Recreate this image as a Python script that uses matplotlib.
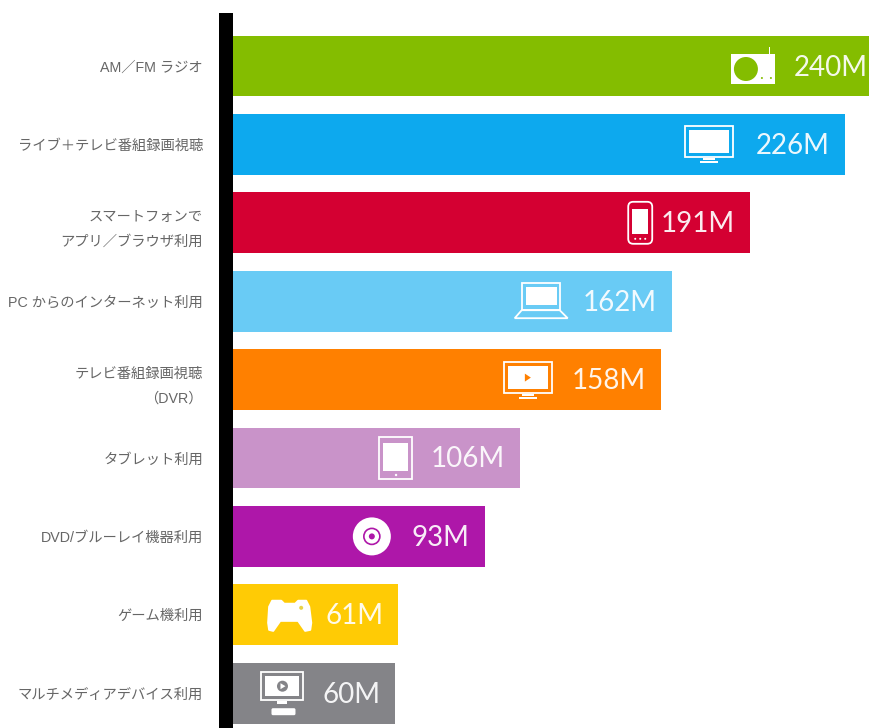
import matplotlib
matplotlib.use('Agg')
import matplotlib.pyplot as plt
from matplotlib.patches import Rectangle, Circle, FancyBboxPatch, Polygon

labels = ['AM／FM ラジオ', 'ライブ＋テレビ番組録画視聴', 'スマートフォンで\nアプリ／ブラウザ利用',
          'PC からのインターネット利用', 'テレビ番組録画視聴\n（DVR）', 'タブレット利用',
          'DVD/ブルーレイ機器利用', 'ゲーム機利用', 'マルチメディアデバイス利用']
values = [240, 226, 191, 162, 158, 106, 93, 61, 60]
colors = ['#84BD00', '#0DA9EE', '#D40032', '#69CBF5', '#FF8000',
          '#C993C9', '#AE17A9', '#FFCB05', '#848488']
icons = ['radio', 'tv', 'phone', 'laptop', 'tvplay', 'tablet', 'disc', 'pad', 'media']
# distance from the bar end to the icon centre, px
icon_back = [130, 136, 110, 131, 133, 124, 113, 109, 113]

W = 'white'
PX = 72 / 100  # points per pixel at dpi 100
plt.rcParams['font.family'] = ['Liberation Sans', 'Noto Sans CJK JP']

fig = plt.figure(figsize=(8.7, 7.28), dpi=100)
ax = fig.add_axes([233 / 870, 0, 637 / 870, 1])
ax.set_xlim(0, 637 / 2.708)
ax.set_ylim(8.444, -0.842)

pos = list(range(len(values)))
ax.barh(pos, values, height=0.775, color=colors)

for i, v in enumerate(values):
    ax.annotate(f'{v}M', (v, i), xytext=(-15 * PX, -1.5 * PX), textcoords='offset points',
                ha='right', va='center', fontsize=20, color='#FFFFFF', alpha=0.92,
                family='Lato', annotation_clip=False)

for s in ['top', 'right', 'bottom']:
    ax.spines[s].set_visible(False)
ax.spines['left'].set_position(('outward', 7 * PX))
ax.spines['left'].set_linewidth(14 * PX)
ax.spines['left'].set_color('black')
ax.spines['left'].set_capstyle('butt')
ax.spines['left'].set_bounds(-0.676, 8.444)
ax.set_xticks([])
ax.set_yticks(pos)
ax.set_yticklabels(labels, fontsize=10.3, color='#666666', linespacing=1.95, ha='right')
ax.tick_params(axis='y', length=0, pad=23 * PX)

# overlay in pixel coordinates, only for the little white device icons
ov = fig.add_axes([0, 0, 1, 1])
ov.set_xlim(0, 870)
ov.set_ylim(728, 0)
ov.axis('off')


def rect(x0, y0, x1, y1, color=W, fill=True, lw=1.3, round=0):
    if round:
        p = FancyBboxPatch((x0, y0), x1 - x0, y1 - y0, boxstyle=f'round,pad=0,rounding_size={round}',
                           fc=color if fill else 'none', ec=color, lw=lw if not fill else 0)
    else:
        p = Rectangle((x0, y0), x1 - x0, y1 - y0, fc=color if fill else 'none',
                      ec=color if not fill else 'none', lw=lw)
    ov.add_patch(p)


def monitor(x, y, bg):
    rect(x - 24, y - 18, x + 24, y + 13, fill=False)
    rect(x - 20, y - 14, x + 20, y + 9)
    rect(x - 6, y + 14, x + 6, y + 16)
    rect(x - 9, y + 17, x + 9, y + 19)


def draw_icon(kind, x, y, bg):
    if kind == 'radio':
        rect(x - 22, y - 13, x + 22, y + 17)
        ov.add_patch(Circle((x - 7, y + 2), 12, fc=bg, ec='none'))
        rect(x + 16, y - 20, x + 17.5, y - 13)
        for dx in [9, 18]:
            ov.add_patch(Circle((x + dx, y + 11), 1, fc=bg, ec='none'))
    elif kind == 'tv':
        monitor(x, y, bg)
    elif kind == 'tvplay':
        monitor(x, y, bg)
        ov.add_patch(Polygon([(x - 3, y - 6), (x - 3, y + 2), (x + 3, y - 2)], fc=bg, ec='none'))
    elif kind == 'phone':
        rect(x - 12, y - 21, x + 12, y + 21, fill=False, round=5)
        rect(x - 8, y - 14, x + 8, y + 11)
        for dx in [-5, 0, 5]:
            ov.add_patch(Circle((x + dx, y + 16), 1, fc=W, ec='none'))
    elif kind == 'laptop':
        rect(x - 19, y - 18, x + 19, y + 9, fill=False)
        rect(x - 15, y - 14, x + 16, y + 4)
        ov.add_patch(Polygon([(x - 19, y + 9), (x + 19, y + 9), (x + 27, y + 17), (x - 26, y + 17)],
                             fc='none', ec=W, lw=1.3))
    elif kind == 'tablet':
        rect(x - 17, y - 21, x + 16, y + 21, fill=False)
        rect(x - 13, y - 15, x + 12, y + 13)
        ov.add_patch(Circle((x, y + 17), 1.2, fc=W, ec='none'))
    elif kind == 'disc':
        ov.add_patch(Circle((x, y), 19, fc=W, ec='none'))
        ov.add_patch(Circle((x, y), 8, fc='none', ec=bg, lw=1.2))
        ov.add_patch(Circle((x, y), 3, fc=bg, ec='none'))
    elif kind == 'pad':
        ov.add_patch(Polygon([(x - 17, y - 14), (x - 8, y - 14), (x - 5, y - 11), (x + 6, y - 11),
                              (x + 9, y - 14), (x + 17, y - 14), (x + 20, y - 8), (x + 22, y + 8),
                              (x + 21, y + 15), (x + 16, y + 16), (x + 9, y + 6), (x - 9, y + 6),
                              (x - 16, y + 16), (x - 20, y + 15), (x - 21, y + 8), (x - 20, y - 8)],
                             closed=True, fc=W, ec=W, lw=1.5, joinstyle='round'))
        ov.add_patch(Circle((x + 12, y - 7), 2, fc='#E8D34A', ec='none'))
    elif kind == 'media':
        rect(x - 21, y - 21, x + 21, y + 7, fill=False)
        rect(x - 17, y - 17, x + 17, y + 3)
        ov.add_patch(Circle((x, y - 7), 5.5, fc=bg, ec='none'))
        ov.add_patch(Polygon([(x - 2, y - 10), (x - 2, y - 4), (x + 3, y - 7)], fc=W, ec='none'))
        rect(x - 5, y + 8, x + 5, y + 11)
        rect(x - 11, y + 15, x + 13, y + 22, round=1.5)


centers = [66 + 78.4 * i for i in pos]
for kind, v, back, c, y in zip(icons, values, icon_back, colors, centers):
    px = ax.transData.transform((v, 0))[0]
    draw_icon(kind, px - back, y + (1 if kind == 'radio' else 0), c)

fig.savefig('out.png', dpi=100, facecolor='white')
